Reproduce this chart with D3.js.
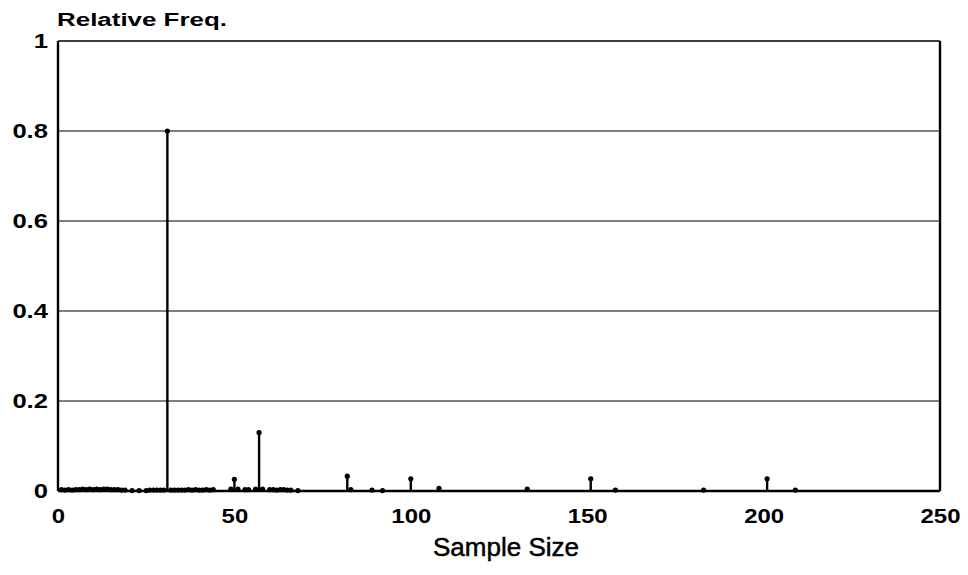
<!DOCTYPE html>
<html>
<head>
<meta charset="utf-8">
<title>Relative Freq. vs Sample Size</title>
<style>
  body { margin: 0; background: #fff; }
  text { font-family: "Liberation Sans", Arial, Helvetica, sans-serif; fill: #000; }
</style>
</head>
<body>
<script src="https://cdn.jsdelivr.net/npm/d3@7/dist/d3.min.js"></script>
<script>
// sample sizes and their relative frequencies
var sampleSizes = [1, 2, 3, 4, 5, 6, 7, 8, 9, 10, 11, 12, 13, 14, 15, 16, 17, 18, 19,
  21, 23, 25, 26, 27, 28, 29, 30, 31, 32, 33, 34, 35, 36, 37, 38, 39, 40, 41, 42, 43, 44,
  49, 50, 51, 53, 54, 56, 57, 58, 60, 61, 62, 63, 64, 65, 66, 68,
  82, 83, 89, 92, 100, 108, 133, 151, 158, 183, 201, 209];
var relFreq = [0.003, 0.002, 0.003, 0.002, 0.003, 0.003, 0.004, 0.003, 0.004, 0.003, 0.004, 0.003, 0.004, 0.004, 0.003, 0.003, 0.003, 0.002, 0.002,
  0.001, 0.001, 0.001, 0.002, 0.002, 0.002, 0.002, 0.002, 0.80, 0.002, 0.002, 0.002, 0.002, 0.002, 0.003, 0.002, 0.003, 0.002, 0.002, 0.003, 0.002, 0.003,
  0.004, 0.026, 0.004, 0.003, 0.003, 0.004, 0.13, 0.004, 0.003, 0.003, 0.002, 0.003, 0.003, 0.002, 0.002, 0.001,
  0.033, 0.003, 0.002, 0.001, 0.027, 0.006, 0.004, 0.027, 0.002, 0.002, 0.027, 0.002];
var xTicks = [0, 50, 100, 150, 200, 250];
var yTicks = [0, 0.2, 0.4, 0.6, 0.8, 1];
var gridLevels = [0.2, 0.4, 0.6, 0.8];

var width = 968, height = 575;
var margin = {top: 41, right: 28, bottom: 84, left: 58};

var svg = d3.select('body').append('svg')
  .attr('width', width)
  .attr('height', height);

var x = d3.scaleLinear().domain([0, 250]).range([margin.left, width - margin.right]);
var y = d3.scaleLinear().domain([0, 1]).range([height - margin.bottom, margin.top]);

// horizontal grid lines
svg.append('g').selectAll('line')
  .data(gridLevels)
  .enter().append('line')
  .attr('x1', x(0)).attr('x2', x(250))
  .attr('y1', function(d){ return y(d); })
  .attr('y2', function(d){ return y(d); })
  .attr('stroke', '#000')
  .attr('stroke-width', 1.2);

// frame: thin top, heavier left/bottom/right
svg.append('line').attr('x1', x(0)).attr('x2', x(250)).attr('y1', y(1)).attr('y2', y(1))
  .attr('stroke', '#000').attr('stroke-width', 1.4);
svg.append('line').attr('x1', x(0)).attr('x2', x(0)).attr('y1', y(1)).attr('y2', y(0))
  .attr('stroke', '#000').attr('stroke-width', 2.4);
svg.append('line').attr('x1', x(250)).attr('x2', x(250)).attr('y1', y(1)).attr('y2', y(0))
  .attr('stroke', '#000').attr('stroke-width', 2.4);
svg.append('line').attr('x1', x(0)).attr('x2', x(250)).attr('y1', y(0)).attr('y2', y(0))
  .attr('stroke', '#000').attr('stroke-width', 2.4);

// axes (labels only)
var xAxis = svg.append('g')
  .attr('transform', 'translate(0,' + y(0) + ')')
  .call(d3.axisBottom(x).tickValues(xTicks).tickSize(0).tickPadding(17).tickFormat(d3.format('d')));
var yAxis = svg.append('g')
  .attr('transform', 'translate(' + x(0) + ',0)')
  .call(d3.axisLeft(y).tickValues(yTicks).tickSize(0).tickPadding(10).tickFormat(function(d){ return d === 0 || d === 1 ? d3.format('d')(d) : d3.format('.1f')(d); }));
[xAxis, yAxis].forEach(function(a, k){
  a.select('.domain').remove();
  a.selectAll('text')
    .style('font-size', '21px')
    .style('font-weight', 'bold')
    .attr('fill', '#000')
    .each(function(){
      var w = this.getComputedTextLength();
      d3.select(this).attr('textLength', w * (k === 0 ? 1.14 : 1.22)).attr('lengthAdjust', 'spacingAndGlyphs');
    });
});

// stems
var pts = sampleSizes.map(function(s, i){ return {s: s, v: relFreq[i]}; });
svg.append('g').selectAll('line')
  .data(pts)
  .enter().append('line')
  .attr('x1', function(d){ return x(d.s); })
  .attr('x2', function(d){ return x(d.s); })
  .attr('y1', y(0))
  .attr('y2', function(d){ return y(d.v); })
  .attr('stroke', '#000')
  .attr('stroke-width', 2.4);
svg.append('g').selectAll('circle')
  .data(pts)
  .enter().append('circle')
  .attr('cx', function(d){ return x(d.s); })
  .attr('cy', function(d){ return y(d.v); })
  .attr('r', 2.6)
  .attr('fill', '#000');

// titles
svg.append('text')
  .attr('x', 57).attr('y', 26)
  .style('font-size', '18px')
  .style('font-weight', 'bold')
  .attr('textLength', 170)
  .attr('lengthAdjust', 'spacingAndGlyphs')
  .text('Relative Freq.');

svg.append('text')
  .attr('x', 506).attr('y', 556)
  .attr('text-anchor', 'middle')
  .style('font-size', '26px')
  .attr('stroke', '#000').attr('stroke-width', 0.5)
  .text('Sample Size');
</script>
</body>
</html>
